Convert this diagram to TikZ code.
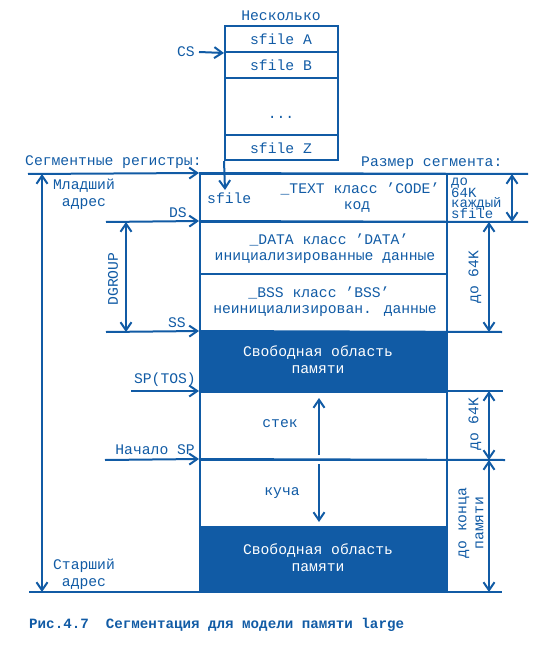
\documentclass[tikz,border=0pt]{standalone}
\usepackage{fontspec}
\setmainfont{Liberation Mono}
\usetikzlibrary{arrows.meta}
\definecolor{ink}{RGB}{17,91,165}
\begin{document}
\begin{tikzpicture}[x=1pt,y=-1pt,
  every node/.style={text=ink,inner sep=0pt,font=\fontsize{14.7}{17}\selectfont},
  ln/.style={draw=ink,line width=2pt},
  tip/.style={-{Straight Barb[length=8pt,width=11pt]}},
  dtip/.style={{Straight Barb[length=8pt,width=11pt]}-{Straight Barb[length=8pt,width=11pt]}},
  rbox/.style={draw=ink,line width=2pt,minimum width=113pt},
  cbox/.style={draw=ink,line width=2pt,minimum width=247pt},
  dark/.style={cbox,fill=ink},
  wt/.style={text=white,align=center},
  eachln/.style={anchor=base west,font=\fontsize{14}{11}\selectfont}]
\useasboundingbox (0,0) rectangle (555,650);

% ---- top stack of sfiles
\node (several) at (281,16) {Несколько};
\node[rbox,minimum height=26pt] (sA) at (281.5,39) {};
\node[rbox,minimum height=26pt] (sB) at (281.5,65) {};
\node[rbox,minimum height=57pt] (sD) at (281.5,106.5) {};
\node[rbox,minimum height=25pt] (sZ) at (281.5,147.5) {};
\node (tA) at (281,39) {sfile A};
\node (tB) at (281,65) {sfile B};
\node (tD) at (281,117) {...};
\node (tZ) at (281,148) {sfile Z};
\node[anchor=east] (cs) at (195,52) {CS};
\coordinate (csL) at (199,52);
\draw[ln,tip] (csL) -- (sA.south west);

% ---- main column
\node[cbox,minimum height=48pt] (seg) at (323.5,198) {};
\node[cbox,minimum height=52pt] (data) at (323.5,248) {};
\node[cbox,minimum height=58pt] (bss) at (323.5,303) {};
\node[dark,minimum height=60pt] (free1) at (323.5,362) {};
\node[cbox,minimum height=68pt] (stack) at (323.5,426) {};
\node[cbox,minimum height=67pt] (heap) at (323.5,493.5) {};
\node[dark,minimum height=65pt] (free2) at (323.5,559.5) {};

% sfile arrow
\coordinate (sfE) at (225,190);
\draw[ln,tip] (sZ.south west) -- (sfE);

% headers
\node[anchor=west] (segreg) at (25,162) {Сегментные регистры:};
\node[anchor=west] (segsz) at (361,163) {Размер сегмента:};

% register arrows and extended lines
\coordinate (regL) at (28,174);
\coordinate (dsL) at (106,222);
\coordinate (ssL) at (106,332);
\coordinate (tosL) at (131,391);
\coordinate (spL) at (105,460);
\coordinate (botL) at (29,592);
\coordinate (r1) at (528,174);
\coordinate (r2) at (528,222);
\coordinate (r3) at (502,332);
\coordinate (r4) at (503,391);
\coordinate (r5) at (505,460);
\coordinate (r6) at (502,592);
\draw[ln,tip] (regL) -- (seg.north west);
\draw[ln,tip] (dsL) -- (data.north west);
\draw[ln,tip] (ssL) -- (free1.north west);
\draw[ln,tip] (tosL) -- (stack.north west);
\draw[ln,tip] (spL) -- (heap.north west);
\draw[ln] (seg.north west) -- (r1);
\draw[ln] (data.north west) -- (r2);
\draw[ln] (free1.north west) -- (r3);
\draw[ln] (stack.north west) -- (r4);
\draw[ln] (heap.north west) -- (r5);
\draw[ln] (botL) -- (r6);

% register labels
\node[anchor=east] (ds) at (187,213) {DS};
\node[anchor=east] (ss) at (186,323) {SS};
\node[anchor=east] (tos) at (196,380) {SP(TOS)};
\node[anchor=east] (sp) at (195,450) {Начало SP};

% left address arrow
\coordinate (adrT) at (42,174);
\coordinate (adrB) at (42,592);
\draw[ln,dtip] (adrT) -- (adrB);
\node[align=center] (low) at (84,194) {Младший\\адрес};
\node[align=center] (high) at (84,574) {Старший\\адрес};

% DGROUP
\coordinate (dgT) at (126,222);
\coordinate (dgB) at (126,332);
\draw[ln,dtip] (dgT) -- (dgB);
\node[rotate=90] (dgroup) at (113,279) {DGROUP};

% segment texts
\node[anchor=west] (sfile) at (207,198) {sfile};
\node (textc) at (360,189) {\_TEXT класс 'CODE'};
\node (kod) at (357,207) {код};
\node (datac) at (329,240) {\_DATA класс 'DATA'};
\node (init) at (325,258) {инициализированные данные};
\node (bssc) at (319,293) {\_BSS класс 'BSS'};
\node (uninit) at (325,311) {неинициализирован. данные};
\node[wt] (fr1) at (318,360) {Свободная область\\памяти};
\node (stk) at (280,424) {стек};
\node (kucha) at (282,493) {куча};
\node[wt] (fr2) at (318,558) {Свободная область\\памяти};

% stack / heap growth arrows
\coordinate (stB) at (319,455);
\coordinate (stT) at (319,398);
\coordinate (hpT) at (319,464);
\coordinate (hpB) at (319,522);
\draw[ln,tip] (stB) -- (stT);
\draw[ln,tip] (hpT) -- (hpB);

% size column
\coordinate (z1t) at (512,174);
\coordinate (z1b) at (512,222);
\coordinate (z2t) at (489,222);
\coordinate (z2b) at (489,332);
\coordinate (z3t) at (489,391);
\coordinate (z3b) at (489,460);
\coordinate (z4b) at (489,592);
\draw[ln,dtip] (z1t) -- (z1b);
\draw[ln,dtip] (z2t) -- (z2b);
\draw[ln,dtip] (z3t) -- (z3b);
\draw[ln,dtip] (z3b) -- (z4b);
\node[eachln] (each1) at (451,185) {до};
\node[eachln] (each2) at (451,197.5) {64K};
\node[eachln] (each3) at (451,207.5) {каждый};
\node[eachln] (each4) at (451,218) {sfile};
\node[rotate=90] (d64a) at (475,277) {до 64K};
\node[rotate=90] (d64b) at (475,424) {до 64K};
\node[rotate=90,align=center] (dend) at (471,523) {до конца\\памяти};

% caption
\node[anchor=west,font=\bfseries\fontsize{14.2}{17}\selectfont] (cap) at (29,625) {Рис.4.7\ \ Сегментация для модели памяти large};
\end{tikzpicture}
\end{document}
